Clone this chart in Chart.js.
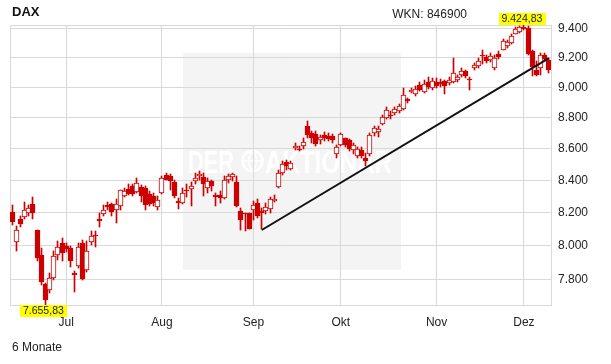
<!DOCTYPE html>
<html>
<head>
<meta charset="utf-8">
<script src="https://cdn.jsdelivr.net/npm/chart.js@4.4.1/dist/chart.umd.min.js"></script>
<style>
  body { margin: 0; background: #fff; }
  #wrap { position: relative; width: 611px; height: 364px; font-family: "Liberation Sans", Arial, sans-serif; color: #222; }
  #chart { position: absolute; left: 0; top: 0; }
  .txt { position: absolute; line-height: 1; white-space: nowrap; }
</style>
</head>
<body>
<div id="wrap">
  <canvas id="chart" width="611" height="364"></canvas>
  <div class="txt" style="left:12px; top:5px; font-size:13px; font-weight:bold; color:#111;">DAX</div>
  <div class="txt" style="right:144px; top:8px; font-size:12px;">WKN: 846900</div>
  <div class="txt" style="left:12px; top:341px; font-size:12px;">6 Monate</div>
</div>
<script>
// trading days, 12.06.2013 - 10.12.2013
const dates = [
  '12.06.','13.06.','14.06.','17.06.','18.06.','19.06.','20.06.','21.06.','24.06.','25.06.','26.06.','27.06.','28.06.',
  '01.07.','02.07.','03.07.','04.07.','05.07.','08.07.','09.07.','10.07.','11.07.','12.07.','15.07.','16.07.','17.07.','18.07.','19.07.','22.07.','23.07.','24.07.','25.07.','26.07.','29.07.','30.07.','31.07.',
  '01.08.','02.08.','05.08.','06.08.','07.08.','08.08.','09.08.','12.08.','13.08.','14.08.','15.08.','16.08.','19.08.','20.08.','21.08.','22.08.','23.08.','26.08.','27.08.','28.08.','29.08.','30.08.',
  '02.09.','03.09.','04.09.','05.09.','06.09.','09.09.','10.09.','11.09.','12.09.','13.09.','16.09.','17.09.','18.09.','19.09.','20.09.','23.09.','24.09.','25.09.','26.09.','27.09.','30.09.',
  '01.10.','02.10.','03.10.','04.10.','07.10.','08.10.','09.10.','10.10.','11.10.','14.10.','15.10.','16.10.','17.10.','18.10.','21.10.','22.10.','23.10.','24.10.','25.10.','28.10.','29.10.','30.10.','31.10.',
  '01.11.','04.11.','05.11.','06.11.','07.11.','08.11.','11.11.','12.11.','13.11.','14.11.','15.11.','18.11.','19.11.','20.11.','21.11.','22.11.','25.11.','26.11.','27.11.','28.11.','29.11.',
  '02.12.','03.12.','04.12.','05.12.','06.12.','09.12.','10.12.'
];

const open = [
  8204,8024,8164,8174,8198,8256,8092,7948,7779,7744,7811,7947,8019,
  8001,7988,7841,7880,8017,7860,8023,8067,8162,8190,8246,8254,8214,8242,8305,8346,8362,8328,8356,8352,8315,8305,8233,
  8322,8435,8429,8390,8270,8260,8342,8346,8393,8425,8421,8352,8393,8307,8307,8291,8399,8421,8387,8208,8198,8198,
  8219,8260,8208,8208,8223,8273,8356,8446,8513,8472,8604,8597,8614,8744,8701,8697,8653,8690,8684,8679,8568,
  8625,8665,8655,8589,8555,8589,8541,8565,8701,8707,8761,8798,8820,8831,8845,8858,8926,8972,8957,9019,8968,9034,8997,
  9034,9036,9041,9030,9034,9050,9084,9108,9057,9132,9143,9222,9206,9188,9132,9229,9257,9285,9303,9368,9377,
  9414,9407,9245,9118,9132,9222,9187
];
const high = [
  8249,8118,8178,8266,8246,8293,8096,7988,7780,7841,7968,8027,8045,
  8019,8001,7849,8017,8037,8027,8087,8091,8200,8249,8266,8260,8281,8342,8354,8379,8379,8415,8373,8362,8332,8322,8305,
  8425,8446,8442,8404,8291,8352,8379,8387,8446,8456,8446,8415,8404,8322,8332,8425,8442,8446,8425,8229,8200,8200,
  8270,8281,8229,8262,8297,8311,8467,8520,8530,8520,8636,8614,8668,8776,8711,8711,8690,8709,8703,8697,8625,
  8701,8669,8659,8636,8612,8610,8572,8701,8744,8744,8820,8871,8842,8871,8887,8997,8930,8999,9008,9034,9048,9071,9064,
  9064,9057,9052,9073,9199,9084,9132,9120,9068,9165,9200,9256,9222,9234,9222,9245,9331,9326,9368,9414,9420,
  9424.83,9418,9257,9177,9234,9234,9200
];
const low = [
  8124,7968,8112,8162,8178,8162,7909,7773,7655.83,7725,7798,7919,7909,
  7966,7878,7729,7872,7802,7845,8007,7994,8116,8178,8219,8178,8138,8214,8293,8311,8305,8322,8264,8214,8239,8239,8214,
  8317,8399,8342,8291,8223,8256,8297,8239,8379,8404,8305,8322,8332,8243,8260,8285,8383,8393,8235,8093,8087,8098,
  8158,8168,8101,8194,8198,8266,8352,8435,8467,8466,8593,8582,8597,8669,8637,8619,8632,8651,8648,8639,8541,
  8619,8610,8582,8568,8543,8541,8488,8551,8684,8675,8754,8791,8791,8820,8831,8853,8897,8965,8946,8974,8960,8990,8985,
  8997,9003,8958,9019,9030,9036,9068,9064,8981,9120,9132,9157,9166,9174,9116,9192,9252,9271,9298,9363,9370,
  9390,9222,9075,9075,9084,9177,9098
];
const close = [
  8144,8096,8132,8219,8230,8198,7929,7786,7687,7812,7941,7994,7956,
  7984,7909,7827,7994,7806,7972,8061,8057,8152,8219,8236,8202,8254,8338,8336,8315,8315,8383,8301,8245,8254,8260,8276,
  8415,8404,8398,8301,8260,8322,8334,8362,8415,8442,8377,8393,8367,8295,8291,8404,8425,8440,8239,8158,8192,8102,
  8249,8178,8198,8236,8281,8281,8446,8499,8488,8509,8619,8589,8640,8690,8669,8632,8675,8669,8664,8658,8610,
  8697,8625,8597,8625,8597,8555,8519,8690,8731,8729,8805,8853,8809,8858,8876,8950,8908,8986,8990,8981,9025,9003,9041,
  9012,9025,9012,9050,9097,9068,9113,9075,9050,9154,9177,9211,9177,9215,9200,9206,9314,9312,9354,9400,9414,
  9400,9229,9141,9084,9222,9193,9116
];

// trend line drawn in the chart
const trendFrom = ['04.09.', 8095];
const trendTo = ['10.12.', 9199];

const yTicks = [7800, 8000, 8200, 8400, 8600, 8800, 9000, 9200, 9400];
const monthNames = ['Jan','Feb','Mär','Apr','Mai','Jun','Jul','Aug','Sep','Okt','Nov','Dez'];

const RED = '#cc0000';
const GRID = '#d9d9d9';

function fmtDe(v, dec) {
  const parts = v.toFixed(dec).split('.');
  const a = parts[0].replace(/\B(?=(\d{3})+(?!\d))/g, '.');
  return parts[1] ? a + ',' + parts[1] : a;
}

// month label at first trading day of each month
const monthLabels = dates.map(function(d, i) {
  if (i === 0) return '';
  const m = d.substr(3, 2);
  return m !== dates[i - 1].substr(3, 2) ? monthNames[parseInt(m, 10) - 1] : '';
});

const decor = {
  id: 'decor',
  // snap candle bodies and wicks to whole pixels so they stay crisp
  afterDatasetsUpdate(chart) {
    [1, 2].forEach(function(di) {
      const meta = chart.getDatasetMeta(di);
      meta.data.forEach(function(el) {
        const c = Math.floor(el.x);
        el.x = c + 0.5;
        el.width = di === 1 ? 5 : 1;
        el.y = Math.round(el.y);
        el.base = Math.round(el.base);
        if (el.y === el.base) el.base += 1;
      });
    });
  },
  beforeDraw(chart) {
    const ctx = chart.ctx;
    ctx.save();
    ctx.fillStyle = '#f4f4f4';
    ctx.fillRect(183, 53, 218, 217);
    // watermark
    ctx.fillStyle = '#ffffff';
    ctx.strokeStyle = '#ffffff';
    ctx.font = 'bold 31px "Liberation Sans", Arial';
    ctx.textBaseline = 'alphabetic';
    let w = ctx.measureText('DER').width;
    ctx.save();
    ctx.translate(188, 173);
    ctx.scale(46 / w, 1);
    ctx.fillText('DER', 0, 0);
    ctx.restore();
    w = ctx.measureText('AKTIONÄR').width;
    ctx.save();
    ctx.translate(265, 173);
    ctx.scale(127 / w, 1);
    ctx.fillText('AKTIONÄR', 0, 0);
    ctx.restore();
    ctx.lineWidth = 2.5;
    ctx.beginPath();
    ctx.arc(252.5, 161, 10, 0, Math.PI * 2);
    ctx.stroke();
    ctx.lineWidth = 1.5;
    ctx.beginPath();
    ctx.ellipse(252.5, 161, 4, 8, 0, 0, Math.PI * 2);
    ctx.moveTo(244, 161); ctx.lineTo(261, 161);
    ctx.stroke();
    ctx.restore();
  },
  beforeDatasetsDraw(chart) {
    const ctx = chart.ctx, a = chart.chartArea;
    ctx.save();
    ctx.strokeStyle = GRID;
    ctx.lineWidth = 1;
    ctx.beginPath();
    ctx.moveTo(a.left + 0.5, a.bottom);
    ctx.lineTo(a.left + 0.5, a.top + 0.5);
    ctx.lineTo(a.right, a.top + 0.5);
    ctx.stroke();
    ctx.restore();
  },
  afterDraw(chart) {
    const ctx = chart.ctx, a = chart.chartArea;
    const xs = chart.scales.x;
    let hi = 0, lo = 0;
    for (let i = 1; i < high.length; i++) {
      if (high[i] > high[hi]) hi = i;
      if (low[i] < low[lo]) lo = i;
    }
    ctx.save();
    ctx.font = '10.5px "Liberation Sans", Arial';
    ctx.textBaseline = 'middle';
    ctx.textAlign = 'center';
    const tag = function(idx, val, top) {
      const s = fmtDe(val, 2);
      const tw = ctx.measureText(s).width + 6;
      const cx = xs.getPixelForValue(idx) - 2;
      ctx.fillStyle = '#ffff00';
      ctx.fillRect(Math.round(cx - tw / 2), top, Math.round(tw), 12);
      ctx.fillStyle = '#222';
      ctx.fillText(s, cx, top + 6.5);
    };
    tag(hi, high[hi], a.top - 12);
    tag(lo, low[lo], a.bottom);
    ctx.restore();
  }
};

const up = function(i) { return close[i] >= open[i]; };

new Chart(document.getElementById('chart').getContext('2d'), {
  type: 'bar',
  data: {
    labels: dates,
    datasets: [
      {
        type: 'line',
        data: [{ x: trendFrom[0], y: trendFrom[1] }, { x: trendTo[0], y: trendTo[1] }],
        borderColor: '#111',
        borderWidth: 2,
        pointRadius: 0,
        order: 0
      },
      {
        data: dates.map((d, i) => [open[i], close[i]]),
        backgroundColor: c => up(c.dataIndex) ? '#ffffff' : RED,
        borderColor: RED,
        borderWidth: 1,
        borderSkipped: false,
        barThickness: 5,
        minBarLength: 1,
        grouped: false,
        order: 1
      },
      {
        data: dates.map((d, i) => [low[i], high[i]]),
        backgroundColor: RED,
        borderWidth: 0,
        barThickness: 1,
        grouped: false,
        order: 2
      }
    ]
  },
  options: {
    responsive: false,
    animation: false,
    devicePixelRatio: 1,
    layout: { padding: { left: 10, top: 25, right: 0, bottom: 0 } },
    plugins: {
      legend: { display: false },
      tooltip: { enabled: false }
    },
    scales: {
      x: {
        type: 'category',
        offset: true,
        grid: {
          offset: false,
          drawTicks: false,
          color: c => monthLabels[c.index] ? GRID : 'rgba(0,0,0,0)'
        },
        border: { color: GRID },
        ticks: {
          autoSkip: false,
          maxRotation: 0,
          padding: 10,
          color: '#222',
          font: { family: '"Liberation Sans", Arial', size: 12 },
          callback: (v, i) => monthLabels[i]
        },
        afterFit: s => { s.height = 59; }
      },
      y: {
        type: 'logarithmic',
        position: 'right',
        min: 7655.83,
        max: 9428,
        afterBuildTicks: s => { s.ticks = yTicks.map(v => ({ value: v })); },
        grid: { color: GRID, drawTicks: false },
        border: { color: GRID },
        ticks: {
          padding: 7,
          color: '#222',
          font: { family: '"Liberation Sans", Arial', size: 12 },
          callback: v => fmtDe(v, 0)
        },
        afterFit: s => { s.width = 60; }
      }
    }
  },
  plugins: [decor]
});
</script>
</body>
</html>
